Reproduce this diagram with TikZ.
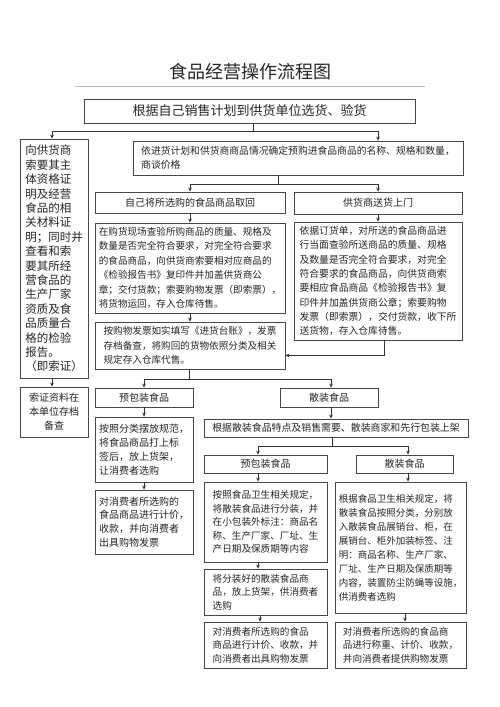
\documentclass[tikz,border=0pt]{standalone}
\usepackage{fontspec}
\setmainfont{Noto Sans CJK SC}
\usetikzlibrary{arrows.meta}
\tikzset{
  box/.style={draw=black!72, line width=0.8pt, inner sep=0pt, align=left, text=black!85},
  cbox/.style={box, align=center},
  arr/.style={draw=black!80, line width=0.8pt, -{Stealth[length=4pt,width=3.6pt]}},
  ln/.style={draw=black!80, line width=0.8pt},
}
\newcommand{\fs}[2]{\fontsize{#1}{#2}\selectfont}
\begin{document}
\begin{tikzpicture}[x=1pt,y=-1pt]
\useasboundingbox[fill=white] (0,0) rectangle (500,707);
% title
\node[text=black!85, font=\fs{18}{22}] (title) at (250,72) {食品经营操作流程图};
\draw[gray!55, line width=0.6pt] (75,86) -- (425,86);
% boxes
\node[cbox, minimum width=331pt, minimum height=24pt, font=\fs{13}{16}] (b1) at (249.5,111) {根据自己销售计划到供货单位选货、验货};
\node[box, minimum width=68pt, minimum height=239pt, font=\fs{11.5}{14.4}] (lb) at (54,258.5) {向供货商\\索要其主\\体资格证\\明及经营\\食品的相\\关材料证\\明；同时并\\查看和索\\要其所经\\营食品的\\生产厂家\\资质及食\\品质量合\\格的检验\\报告。\\（即索证）};
\node[cbox, minimum width=68pt, minimum height=50pt, font=\fs{10}{14}] (lb2) at (54,412) {索证资料在\\本单位存档\\备查};
\node[box, minimum width=330pt, minimum height=34pt, font=\fs{9.8}{14}] (b2) at (298,158) {依进货计划和供货商商品情况确定预购进食品商品的名称、规格和数量，\\商谈价格};
\node[cbox, minimum width=190pt, minimum height=21pt, font=\fs{10}{12}] (b3) at (190,202.5) {自己将所选购的食品商品取回};
\node[cbox, minimum width=168pt, minimum height=22pt, font=\fs{10}{12}] (b4) at (378,203) {供货商送货上门};
\node[box, minimum width=190pt, minimum height=90pt, font=\fs{9.6}{14.4}] (b5) at (190,268) {在购货现场查验所购商品的质量、规格及\\数量是否完全符合要求，对完全符合要求\\的食品商品，向供货商索要相对应商品的\\《检验报告书》复印件并加盖供货商公\\章；交付货款；索要购物发票（即索票），\\将货物运回，存入仓库待售。};
\node[box, minimum width=190pt, minimum height=47pt, font=\fs{9.6}{14.4}] (b6) at (190,345.5) {按购物发票如实填写《进货台账》，发票\\存档备查，将购回的货物依照分类及相关\\规定存入仓库代售。};
\node[box, minimum width=168pt, minimum height=118pt, font=\fs{9.8}{14.3}] (b7) at (378,281) {依据订货单，对所送的食品商品进\\行当面查验所送商品的质量、规格\\及数量是否完全符合要求，对完全\\符合要求的食品商品，向供货商索\\要相应食品商品《检验报告书》复\\印件并加盖供货商公章；索要购物\\发票（即索票），交付货款，收下所\\送货物，存入仓库待售。};
\node[cbox, minimum width=98pt, minimum height=19pt, font=\fs{10}{12}] (b8) at (144,397.5) {预包装食品};
\node[cbox, minimum width=98pt, minimum height=19pt, font=\fs{10}{12}] (b9) at (329,397.5) {散装食品};
\node[box, minimum width=98pt, minimum height=65pt, font=\fs{10}{13.8}] (b10) at (144,449.5) {按照分类摆放规范，\\将食品商品打上标\\签后，放上货架，\\让消费者选购};
\node[box, minimum width=98pt, minimum height=64pt, font=\fs{10}{13.8}] (b11) at (144,522) {对消费者所选购的\\食品商品进行计价，\\收款，并向消费者\\出具购物发票};
\node[cbox, minimum width=264pt, minimum height=18pt, font=\fs{9.9}{12}] (b12) at (336,428) {根据散装食品特点及销售需要、散装商家和先行包装上架};
\node[cbox, minimum width=123pt, minimum height=18pt, font=\fs{10}{12}] (b13) at (265.5,464) {预包装食品};
\node[cbox, minimum width=97pt, minimum height=18pt, font=\fs{10}{12}] (b14) at (404.5,464) {散装食品};
\node[box, minimum width=123pt, minimum height=80pt, font=\fs{9.6}{13.5}] (b15) at (265.5,522) {按照食品卫生相关规定，\\将散装食品进行分装，并\\在小包装外标注：商品名\\称、生产厂家、厂址、生\\产日期及保质期等内容};
\node[box, minimum width=131pt, minimum height=131pt, font=\fs{9.5}{14}] (b16) at (400.5,547.5) {根据食品卫生相关规定，将\\散装食品按照分类，分别放\\入散装食品展销台、柜，在\\展销台、柜外加装标签、注\\明：商品名称、生产厂家、\\厂址、生产日期及保质期等\\内容，装置防尘防蝇等设施，\\供消费者选购};
\node[box, minimum width=123pt, minimum height=46pt, font=\fs{9.6}{13.4}] (b17) at (265.5,592) {将分装好的散装食品商\\品，放上货架，供消费者\\选购};
\node[box, minimum width=123pt, minimum height=46pt, font=\fs{9.6}{13.4}] (b18) at (265.5,645) {对消费者所选购的食品\\商品进行计价、收款，并\\向消费者出具购物发票};
\node[box, minimum width=131pt, minimum height=46pt, font=\fs{9.6}{13.4}] (b19) at (400.5,645) {对消费者所选购的食品商\\品进行称重、计价、收款，\\并向消费者提供购物发票};
% connectors
\coordinate (j1) at (253,131);
\draw[ln] ([xshift=3.5pt]b1.south) -- (j1);
\draw[arr] (j1) -| ([xshift=-2pt]lb.north);
\draw[arr] (j1) -| ([xshift=80pt]b2.north);
\draw[arr] ([xshift=-2pt]lb.south) -- ([xshift=-2pt]lb2.north);
\coordinate (j2) at (278,184);
\draw[ln] ([xshift=-20pt]b2.south) -- (j2);
\draw[arr] (j2) -| (b3.north);
\draw[arr] (j2) -| (b4.north);
\draw[arr] (b3) -- (b5);
\draw[arr] (b4) -- (b7);
\draw[arr] (b5) -- (b6);
\draw[arr] ([xshift=6pt]b7.south) |- ([yshift=-10pt]b6.east);
\coordinate (j3) at (189,379);
\draw[ln] ([xshift=-1pt]b6.south) -- (j3);
\draw[arr] (j3) -| (b8.north);
\draw[arr] (j3) -| ([xshift=2pt]b9.north);
\draw[arr] (b8) -- (b10);
\draw[arr] (b10) -- (b11);
\draw[arr] ([xshift=2pt]b9.south) -- ([xshift=2pt]b9.south |- b12.north);
\coordinate (j4) at (332,446);
\draw[ln] (j4 |- b12.south) -- (j4);
\draw[arr] (j4) -| ([xshift=-7.5pt]b13.north);
\draw[arr] (j4) -| ([xshift=3.5pt]b14.north);
\draw[arr] ([xshift=-7.5pt]b13.south) -- ([xshift=-7.5pt]b13.south |- b15.north);
\draw[arr] ([xshift=3.5pt]b14.south) -- ([xshift=3.5pt]b14.south |- b16.north);
\draw[arr] ([xshift=-7.5pt]b15.south) -- ([xshift=-7.5pt]b15.south |- b17.north);
\draw[arr] ([xshift=-5.5pt]b17.south) -- ([xshift=-5.5pt]b17.south |- b18.north);
\draw[arr] ([xshift=4.5pt]b16.south) -- ([xshift=4.5pt]b16.south |- b19.north);
\end{tikzpicture}
\end{document}
